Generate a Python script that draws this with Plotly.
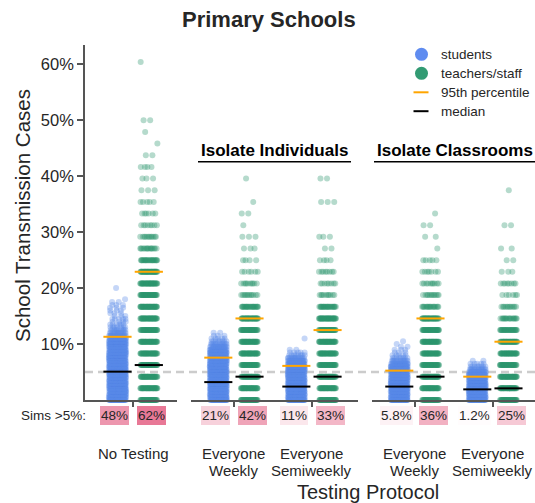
import plotly.graph_objects as go

# ---------------- data ----------------
label_line1 = ["No Testing", "Everyone", "Everyone", "Everyone", "Everyone"]
label_line2 = ["", "Weekly", "Semiweekly", "Weekly", "Semiweekly"]
panel_of = [0, 1, 1, 2, 2]
slot_in_panel = [0, 0, 1, 0, 1]
panel_titles = ["", "Isolate Individuals", "Isolate Classrooms"]

student_median = [0.0507, 0.032, 0.024, 0.024, 0.019]
student_p95 = [0.113, 0.0757, 0.061, 0.0525, 0.0417]
teacher_median = [0.0625, 0.0417, 0.0417, 0.0417, 0.0208]
teacher_p95 = [0.2292, 0.1458, 0.125, 0.1458, 0.1042]

sims_students = [0.48, 0.21, 0.11, 0.058, 0.012]
sims_students_txt = ["48%", "21%", "11%", "5.8%", "1.2%"]
sims_teachers = [0.62, 0.42, 0.33, 0.36, 0.25]
sims_teachers_txt = ["62%", "42%", "33%", "36%", "25%"]

# teachers: number of visible simulations at each level k (value = k/48)
teacher_step = 1 / 48
teacher_counts = [
    [40, 40, 40, 40, 40, 40, 40, 40, 40, 40, 40, 40, 25, 16, 12, 8, 6, 5, 3, 3, 4, 2, 1, 1, 2, 0, 0, 0, 0, 1],
    [40, 40, 40, 40, 40, 40, 40, 40, 25, 12, 10, 6, 4, 3, 3, 1, 2, 1, 0, 1],
    [40, 40, 40, 40, 40, 40, 40, 40, 25, 10, 8, 8, 4, 2, 3, 0, 0, 3, 0, 2],
    [40, 40, 40, 40, 40, 40, 40, 40, 18, 12, 10, 7, 5, 1, 2, 2, 1],
    [40, 40, 40, 40, 40, 40, 30, 18, 12, 6, 8, 3, 2, 2, 0, 2, 0, 0, 1],
]

# students: number of visible simulations per 0.5% bin (value = i*0.005)
student_step = 0.005
student_counts = [
    [40, 40, 40, 40, 40, 40, 40, 40, 40, 40, 40, 40, 40, 40, 40, 40, 40, 40, 40, 40, 40,
     35, 30, 22, 14, 10, 7, 6, 4, 5, 3, 3, 3, 3, 3, 2, 1, 0, 0, 0, 1],
    [40, 40, 40, 40, 40, 40, 40, 40, 40, 40, 40, 40, 40, 40, 40, 40, 40, 40,
     30, 20, 12, 8, 5, 3, 2],
    [40, 40, 40, 40, 40, 40, 40, 40, 40, 40, 40, 40, 40, 40,
     25, 15, 8, 5, 2, 0, 0, 0, 1],
    [40, 40, 40, 40, 40, 40, 40, 40, 40, 40, 40, 40, 40,
     25, 15, 8, 5, 3, 3, 2, 1, 1],
    [40, 40, 40, 40, 40, 40, 40, 40, 40, 40,
     25, 15, 8, 5, 2],
]

threshold = 0.05

# ---------------- styling ----------------
FONT = "Liberation Sans, Arial, Helvetica, sans-serif"
TXT = "#262626"
AX = "#555555"
BLUE = "rgb(90,137,232)"
GREEN = "rgb(44,150,110)"
ORANGE = "rgb(255,165,0)"

W, H = 535, 503
# plot area in window pixels: x 85..535, y 45..400
PL, PR, PT, PB = 85, 535, 45, 400
ML, MR, MT, MB = PL, W - PR, PT, H - PB
PW, PH = PR - PL, PB - PT


def px_x(p):
    return (p - PL) / PW


def px_y(p):
    return (PB - p) / PH


xaxis_ids = ["x", "x2", "x3"]
xaxis_keys = ["xaxis", "xaxis2", "xaxis3"]
domains = [[0, px_x(177)], [px_x(191), px_x(358)], [px_x(372), 1.0]]
ranges = [[-0.615, 0.56], [-0.55, 1.59], [-0.55, 1.54]]
panel_ticks = [[0], [0, 1], [0, 1]]

OFF = 0.2      # dodge offset of each swarm
JIT = 0.11     # half width of the jitter
HALF = 0.18    # half width of median / percentile bars


def spread(n, seed):
    return [(((j + 1) * 0.6180339887 + seed) % 1.0 - 0.5) * 2 for j in range(n)]


fig = go.Figure()

for c in range(5):
    xa = xaxis_ids[panel_of[c]]
    ctr = slot_in_panel[c]
    sx, sy = [], []
    for i, n in enumerate(student_counts[c]):
        for f in spread(n, i * 0.37 + c * 0.11):
            sx.append(ctr - OFF + f * JIT)
            sy.append(i * student_step)
    fig.add_trace(go.Scatter(x=sx, y=sy, xaxis=xa, yaxis="y", mode="markers",
                             marker=dict(size=6, color=BLUE, opacity=0.35, line=dict(width=0)),
                             cliponaxis=False, hoverinfo="skip", showlegend=False))
    tx, ty = [], []
    for k, n in enumerate(teacher_counts[c]):
        for f in spread(n, k * 0.29 + c * 0.17):
            tx.append(ctr + OFF + f * JIT)
            ty.append(k * teacher_step)
    fig.add_trace(go.Scatter(x=tx, y=ty, xaxis=xa, yaxis="y", mode="markers",
                             marker=dict(size=6, color=GREEN, opacity=0.35, line=dict(width=0)),
                             cliponaxis=False, hoverinfo="skip", showlegend=False))

for c in range(5):
    xa = xaxis_ids[panel_of[c]]
    ctr = slot_in_panel[c]
    for vals, color in ((student_p95, ORANGE), (student_median, "black")):
        fig.add_trace(go.Scatter(x=[ctr - OFF - HALF, ctr - OFF + HALF], y=[vals[c], vals[c]],
                                 xaxis=xa, yaxis="y", mode="lines", line=dict(color=color, width=2),
                                 hoverinfo="skip", showlegend=False))
    for vals, color in ((teacher_p95, ORANGE), (teacher_median, "black")):
        fig.add_trace(go.Scatter(x=[ctr + OFF - HALF, ctr + OFF + HALF], y=[vals[c], vals[c]],
                                 xaxis=xa, yaxis="y", mode="lines", line=dict(color=color, width=2),
                                 hoverinfo="skip", showlegend=False))


def pink(v):
    t = min(v / 0.62, 1.0)
    r = 255 + (232 - 255) * t
    g = 255 + (120 - 255) * t
    b = 255 + (150 - 255) * t
    return f"rgb({r:.0f},{g:.0f},{b:.0f})"


annotations = []
shapes = []


def note(**kw):
    kw.setdefault("xanchor", "center")
    kw.setdefault("yanchor", "middle")
    kw.setdefault("showarrow", False)
    annotations.append(kw)


shapes.append(dict(type="line", xref="paper", yref="y", x0=0, x1=1, y0=threshold, y1=threshold,
                   line=dict(color="rgb(204,204,204)", width=2.5, dash="8px,5px"), layer="below"))

sims_y = px_y(415)
for c in range(5):
    xr = xaxis_ids[panel_of[c]]
    ctr = slot_in_panel[c]
    for v, t, dx in ((sims_students[c], sims_students_txt[c], -0.235),
                     (sims_teachers[c], sims_teachers_txt[c], 0.235)):
        note(x=ctr + dx, y=sims_y, xref=xr, yref="paper", text=t,
             bgcolor=pink(v), borderpad=1, borderwidth=0, height=17,
             font=dict(size=13.5, color=TXT))
    if label_line2[c]:
        note(x=ctr, y=px_y(453), xref=xr, yref="paper", text=label_line1[c], font=dict(size=15, color=TXT))
        note(x=ctr, y=px_y(470), xref=xr, yref="paper", text=label_line2[c], font=dict(size=15, color=TXT))
    else:
        note(x=ctr, y=px_y(453), xref=xr, yref="paper", text=label_line1[c], font=dict(size=15, color=TXT))

note(x=px_x(88), y=sims_y, xref="paper", yref="paper", text="Sims >5%:", xanchor="right",
     font=dict(size=13.5, color=TXT))

hdr = [None, (198, 351), (374, 535)]
hdr_text_ctr = [None, 274.5, 455]
for p in (1, 2):
    note(x=px_x(hdr_text_ctr[p]), y=px_y(150), xref="paper", yref="paper",
         text=f"<b>{panel_titles[p]}</b>", font=dict(size=17, color="black"))
    shapes.append(dict(type="line", xref="paper", yref="paper", x0=px_x(hdr[p][0]), x1=px_x(hdr[p][1]),
                       y0=px_y(161.7), y1=px_y(161.7), line=dict(color="black", width=1.6)))

note(x=px_x(269), y=px_y(19), xref="paper", yref="paper",
     text="<b>Primary Schools</b>", font=dict(size=22, color=TXT))
note(x=px_x(22), y=px_y(216), xref="paper", yref="paper",
     text="School Transmission Cases", textangle=-90, font=dict(size=20.5, color=TXT))
note(x=px_x(368), y=px_y(492), xref="paper", yref="paper",
     text="Testing Protocol", font=dict(size=20, color=TXT))

leg_items = [("students", "dot", "rgb(95,140,240)"), ("teachers/staff", "dot", "rgb(50,155,115)"),
             ("95th percentile", "line", ORANGE), ("median", "line", "black")]
leg_y = [54.3, 73.3, 92.3, 111.2]
for (name, kind, col), yy in zip(leg_items, leg_y):
    if kind == "dot":
        shapes.append(dict(type="circle", xref="paper", yref="paper", xsizemode="pixel", ysizemode="pixel",
                           xanchor=px_x(421.5), yanchor=px_y(yy), x0=-6.5, x1=6.5, y0=-6.5, y1=6.5,
                           fillcolor=col, line=dict(width=0)))
    else:
        shapes.append(dict(type="line", xref="paper", yref="paper", x0=px_x(413.5), x1=px_x(428.5),
                           y0=px_y(yy), y1=px_y(yy), line=dict(color=col, width=2)))
    note(x=px_x(439), y=px_y(yy), xref="paper", yref="paper", text=name, xanchor="left",
         font=dict(size=13.5, color=TXT))

layout = dict(
    width=W, height=H,
    margin=dict(l=ML, r=MR, t=MT, b=MB, autoexpand=False),
    paper_bgcolor="white", plot_bgcolor="white",
    font=dict(family=FONT, color=TXT),
    showlegend=False,
    annotations=annotations, shapes=shapes,
    yaxis=dict(range=[0, 0.6346], tickvals=[0.1, 0.2, 0.3, 0.4, 0.5, 0.6], tickformat=".0%",
               ticks="outside", ticklen=6, tickwidth=1.6, tickcolor=AX,
               showline=True, linecolor=AX, linewidth=1.6, showgrid=False, zeroline=False,
               tickfont=dict(size=16.5, color=TXT), anchor="x", domain=[0, 1], automargin=False),
)
for p in range(3):
    layout[xaxis_keys[p]] = dict(domain=domains[p], range=ranges[p], anchor="y",
                                 tickvals=panel_ticks[p], showticklabels=False,
                                 ticks="outside", ticklen=5, tickwidth=1.6, tickcolor=AX,
                                 showline=True, linecolor=AX, linewidth=1.6,
                                 showgrid=False, zeroline=False, automargin=False)

fig.update_layout(**layout)
fig.write_html("out.html", config={"displayModeBar": False},
               post_script="document.body.style.margin='0';document.body.style.overflow='hidden';")
